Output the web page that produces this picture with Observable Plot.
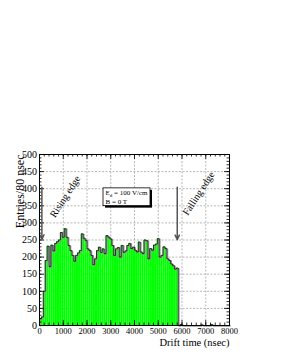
<!DOCTYPE html>
<html>
<head>
<meta charset="utf-8">
<script src="https://cdn.jsdelivr.net/npm/d3@7"></script>
<script src="https://cdn.jsdelivr.net/npm/@observablehq/plot@0.6"></script>
<style>
  html, body { margin: 0; padding: 0; background: white; }
  #chart { width: 281px; height: 363px; }
</style>
</head>
<body>
<div id="chart"></div>
<script>
// ---- data ----
const binWidth = 80; // nsec
const counts = [
  20, 25, 100, 190, 232, 172, 235, 218, 240, 245,
  250, 272, 258, 283, 258, 234, 219, 205, 188, 205,
  212, 219, 268, 255, 249, 224, 219, 205, 178, 195,
  219, 229, 214, 224, 210, 263, 258, 253, 234, 205,
  224, 228, 200, 234, 214, 218, 234, 240, 225, 229,
  220, 215, 244, 215, 210, 250, 248, 195, 225, 220,
  235, 238, 254, 200, 205, 230, 225, 195, 190, 180,
  175, 165, 168, 0, 3, 0, 0, 0, 0, 0,
  0, 0, 0, 0, 0, 2, 0, 0, 0, 0,
  3, 0, 0, 0, 0, 0, 0, 0, 0, 0
];
const xMajorTicks = [0, 1000, 2000, 3000, 4000, 5000, 6000, 7000, 8000];
const xMinorTicks = d3.range(0, 8001, 200);
const yMajorTicks = [0, 50, 100, 150, 200, 250, 300, 350, 400, 450, 500];
const yMinorTicks = d3.range(0, 501, 10);
const xTitle = "Drift time (nsec)";
const yTitle = "Entries/80 nsec";
const annotations = [
  {label: "Rising edge", x: 1080, y: 377},
  {label: "Falling edge", x: 6700, y: 386}
];
const arrows = [
  {x: 100, y1: 404, y2: 252},
  {x: 5800, y1: 404, y2: 251}
];
const legendBox = [{x1: 2695, x2: 4674, y1: 349, y2: 401}];
const legendLines = [
  {text: "E_d = 100 V/cm", x: 2780, y: 389},
  {text: "B = 0 T", x: 2780, y: 363}
];

// ---- derived tables ----
const bins = counts.map((n, i) => ({x1: i * binWidth, x2: (i + 1) * binWidth, n}));
const outline = [{x: 0, n: 0}, ...bins.map(b => ({x: b.x1, n: b.n})), {x: 8000, n: counts[counts.length - 1]}];

const W = 281, H = 363, mL = 39, mR = 52, mT = 154, mB = 38;
const pw = W - mL - mR, ph = H - mT - mB;
const major = 5, minor = 2.5;

const chart = Plot.plot({
  width: W, height: H,
  marginLeft: mL, marginRight: mR, marginTop: mT, marginBottom: mB,
  x: {domain: [0, 8000]},
  y: {domain: [0, 500]},
  style: {fontFamily: "'Liberation Serif', 'DejaVu Serif', serif", background: "white", color: "black"},
  marks: [
    // grid
    Plot.gridX(xMajorTicks.slice(1, -1), {stroke: "#999", strokeOpacity: 1, strokeWidth: 0.7, strokeDasharray: "2,1.5"}),
    Plot.gridY(yMajorTicks.slice(1, -1), {stroke: "#999", strokeOpacity: 1, strokeWidth: 0.7, strokeDasharray: "2,1.5"}),
    // histogram
    Plot.rectY(bins, {x1: "x1", x2: "x2", y: "n", fill: "#00ff00"}),
    Plot.line(outline, {x: "x", y: "n", curve: "step-after", stroke: "#999", strokeWidth: 1.3, dx: 0.8, dy: 0.5}),
    Plot.line(outline, {x: "x", y: "n", curve: "step-after", stroke: "#111", strokeWidth: 0.8}),
    // ticks (inward, all four sides)
    Plot.ruleX(xMajorTicks, {insetTop: ph - major, stroke: "black", strokeWidth: 0.8}),
    Plot.ruleX(xMinorTicks, {insetTop: ph - minor, stroke: "black", strokeWidth: 0.8}),
    Plot.ruleX(xMajorTicks, {insetBottom: ph - major, stroke: "black", strokeWidth: 0.8}),
    Plot.ruleX(xMinorTicks, {insetBottom: ph - minor, stroke: "black", strokeWidth: 0.8}),
    Plot.ruleY(yMajorTicks, {insetRight: pw - major, stroke: "black", strokeWidth: 0.8}),
    Plot.ruleY(yMinorTicks, {insetRight: pw - minor, stroke: "black", strokeWidth: 0.8}),
    Plot.ruleY(yMajorTicks, {insetLeft: pw - major, stroke: "black", strokeWidth: 0.8}),
    Plot.ruleY(yMinorTicks, {insetLeft: pw - minor, stroke: "black", strokeWidth: 0.8}),
    // axes labels
    Plot.axisX(xMajorTicks, {tickSize: 0, tickPadding: 2, fontSize: 8.5, tickFormat: d => String(d), label: null}),
    Plot.axisY(yMajorTicks, {tickSize: 0, tickPadding: 2.5, fontSize: 10, tickFormat: d => String(d), label: null}),
    Plot.text([xTitle], {frameAnchor: "bottom-right", dy: 20, textAnchor: "end", fontSize: 10.5}),
    Plot.text([yTitle], {frameAnchor: "top-left", dx: -24, rotate: -90, textAnchor: "end", fontSize: 12}),
    // annotations
    Plot.arrow(arrows, {x1: "x", x2: "x", y1: "y1", y2: "y2", stroke: "#555", strokeWidth: 1.5, headLength: 5, headAngle: 50}),
    Plot.text(annotations, {x: "x", y: "y", text: "label", rotate: -57, fontSize: 10}),
    // legend box
    Plot.rect(legendBox, {x1: "x1", x2: "x2", y1: "y1", y2: "y2", fill: "black", dx: 2, dy: 2}),
    Plot.rect(legendBox, {x1: "x1", x2: "x2", y1: "y1", y2: "y2", fill: "white", stroke: "black", strokeWidth: 0.8}),
    Plot.text(legendLines, {x: "x", y: "y", text: "text", textAnchor: "start", fontSize: 7}),
    // frame
    Plot.frame({stroke: "black", strokeWidth: 1})
  ]
});

// subscript "d" in E_d
chart.querySelectorAll("text").forEach(t => {
  if (t.textContent === "E_d = 100 V/cm") {
    t.textContent = "";
    const ns = "http://www.w3.org/2000/svg";
    const a = document.createElementNS(ns, "tspan"); a.textContent = "E";
    const b = document.createElementNS(ns, "tspan"); b.textContent = "d"; b.setAttribute("dy", "2"); b.setAttribute("font-size", "5");
    const c = document.createElementNS(ns, "tspan"); c.textContent = " = 100 V/cm"; c.setAttribute("dy", "-2");
    t.append(a, b, c);
  }
});

document.getElementById("chart").appendChild(chart);
</script>
</body>
</html>
